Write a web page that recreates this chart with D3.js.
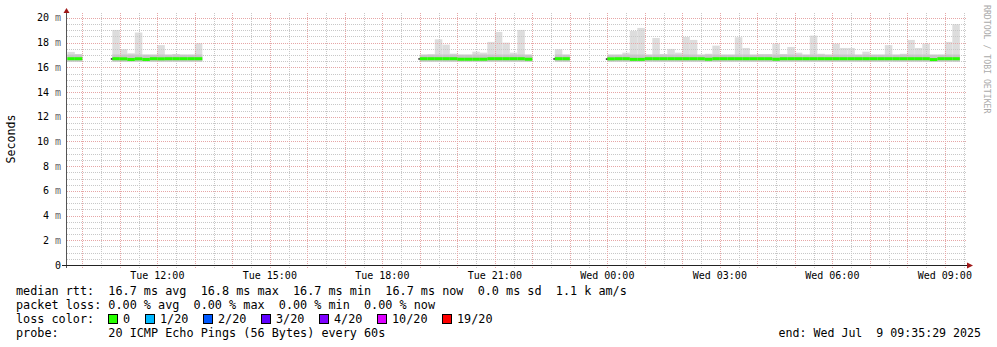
<!DOCTYPE html>
<html>
<head>
<meta charset="utf-8">
<script src="https://cdn.jsdelivr.net/npm/d3@7"></script>
<style>
  body { margin: 0; background: #fff; }
  text { font-family: "DejaVu Sans Mono", monospace; }
</style>
</head>
<body>
<svg id="chart" width="997" height="347"></svg>
<script>
// time window of the graph (UTC, as printed by the probe)
var rangeStart = new Date(Date.UTC(2025, 6, 8, 9, 35, 29));
var rangeEnd = new Date(Date.UTC(2025, 6, 9, 9, 35, 29));
var firstStep = new Date(Date.UTC(2025, 6, 8, 9, 36, 0));
var stepMinutes = 12;

// highest ping in each 12 min step (ms), null = no data
var stepMax = [
  17.25, 17.08, null, null, null, null, 19.03, 17.47, 17.14, 18.82,
  17.0, 17.0, 17.8, 17.0, 17.08, 17.0, 17.0, 17.95, null, null,
  null, null, null, null, null, null, null, null, null, null,
  null, null, null, null, null, null, null, null, null, null,
  null, null, null, null, null, null, null, 17.0, 17.05, 18.27,
  17.84, 17.11, 17.0, 17.0, 17.27, 17.19, 18.06, 18.87, 18.0, 17.19,
  19.03, 17.0, null, null, null, 17.47, 17.0, null, null, null,
  null, null, 17.0, 17.0, 17.19, 18.95, 19.19, 17.0, 18.38, 17.08,
  17.49, 17.19, 18.46, 18.22, 17.0, 17.1, 17.76, 17.0, 17.0, 18.44,
  17.57, 17.0, 17.08, 17.08, 17.92, 17.08, 17.65, 17.19, 17.0, 18.57,
  17.1, 17.0, 17.92, 17.57, 17.57, 17.0, 17.27, 17.0, 17.0, 17.8,
  17.0, 17.1, 18.22, 17.57, 17.92, 17.0, 17.0, 18.06, 19.49, null
];

// median rtt in each step (ms)
var stepMedian = [
  16.7, 16.7, null, null, null, null, 16.7, 16.69, 16.64, 16.69,
  16.64, 16.7, 16.69, 16.7, 16.7, 16.7, 16.7, 16.7, null, null,
  null, null, null, null, null, null, null, null, null, null,
  null, null, null, null, null, null, null, null, null, null,
  null, null, null, null, null, null, null, 16.7, 16.7, 16.7,
  16.7, 16.7, 16.66, 16.66, 16.66, 16.66, 16.7, 16.7, 16.7, 16.7,
  16.7, 16.66, null, null, null, 16.7, 16.7, null, null, null,
  null, null, 16.69, 16.7, 16.7, 16.65, 16.65, 16.7, 16.7, 16.7,
  16.7, 16.7, 16.7, 16.7, 16.7, 16.66, 16.7, 16.7, 16.7, 16.7,
  16.7, 16.7, 16.7, 16.7, 16.66, 16.7, 16.7, 16.7, 16.7, 16.7,
  16.7, 16.7, 16.7, 16.7, 16.7, 16.7, 16.7, 16.7, 16.7, 16.7,
  16.7, 16.7, 16.7, 16.7, 16.7, 16.63, 16.7, 16.7, 16.7, null
];

// lowest ping and upper edge of the dense smoke (ms)
var stepMin = 16.46;
var stepDense = 17.04;

var yTicks = [0, 2, 4, 6, 8, 10, 12, 14, 16, 18, 20];

var lossLabels = ["0", "1/20", "2/20", "3/20", "4/20", "10/20", "19/20"];
var lossColors = ["#26ff00", "#00b8ff", "#0059ff", "#5e00ff", "#7e00ff", "#dd00ff", "#ff0000"];

var legendLines = [
  "median rtt:  16.7 ms avg  16.8 ms max  16.7 ms min  16.7 ms now  0.0 ms sd  1.1 k am/s",
  "packet loss: 0.00 % avg  0.00 % max  0.00 % min  0.00 % now",
  "loss color:",
  "probe:       20 ICMP Echo Pings (56 Bytes) every 60s"
];
var endLabel = "end: Wed Jul  9 09:35:29 2025";

var svg = d3.select("#chart");

var x = d3.scaleUtc().domain([rangeStart, rangeEnd]).range([67, 967]);
var y = d3.scaleLinear().domain([0, 20.4]).range([265, 13]);
var px = function(v) { return Math.round(v) + 0.5; };

var steps = stepMax.map(function(m, i) {
  var t0 = d3.utcMinute.offset(firstStep, i * stepMinutes);
  var t1 = d3.utcMinute.offset(firstStep, (i + 1) * stepMinutes);
  return { t0: t0, t1: t1, max: m, med: stepMedian[i], first: i > 0 && stepMax[i - 1] == null };
}).filter(function(d) { return d.max != null; });

// smoke: light part up to the max
svg.append("g").selectAll("rect").data(steps).enter().append("rect")
  .attr("x", function(d) { return x(d.t0); })
  .attr("width", function(d) { return x(d.t1) - x(d.t0); })
  .attr("y", function(d) { return y(d.max); })
  .attr("height", function(d) { return y(stepMin) - y(d.max); })
  .attr("fill", "#dddddd");

// dense smoke around the median
svg.append("g").selectAll("rect").data(steps).enter().append("rect")
  .attr("x", function(d) { return x(d.t0); })
  .attr("width", function(d) { return x(d.t1) - x(d.t0); })
  .attr("y", y(stepDense))
  .attr("height", y(stepMin) - y(stepDense))
  .attr("fill", "#c6c6c6");

// grid
var grid = svg.append("g");
var minorY = d3.range(0, 20.01, 0.5).filter(function(v) { return v % 2 != 0; });
grid.selectAll("line.my").data(minorY).enter().append("line")
  .attr("x1", 67).attr("x2", 967)
  .attr("y1", function(d) { return px(y(d)); }).attr("y2", function(d) { return px(y(d)); })
  .attr("stroke", "#c8c8c8").attr("stroke-dasharray", "1,1");
var minorX = x.ticks(d3.utcMinute.every(30)).filter(function(d) { return d.getUTCMinutes() != 0; });
grid.selectAll("line.mx").data(minorX).enter().append("line")
  .attr("x1", function(d) { return px(x(d)); }).attr("x2", function(d) { return px(x(d)); })
  .attr("y1", 13).attr("y2", 268)
  .attr("stroke", "#c8c8c8").attr("stroke-dasharray", "1,1");
grid.selectAll("line.My").data(yTicks.slice(1)).enter().append("line")
  .attr("x1", 67).attr("x2", 967)
  .attr("y1", function(d) { return px(y(d)); }).attr("y2", function(d) { return px(y(d)); })
  .attr("stroke", "#e6a6a6").attr("stroke-dasharray", "1,1");
var hours = x.ticks(d3.utcHour.every(1));
grid.selectAll("line.Mx").data(hours).enter().append("line")
  .attr("x1", function(d) { return px(x(d)); }).attr("x2", function(d) { return px(x(d)); })
  .attr("y1", 13).attr("y2", 268)
  .attr("stroke", "#e6a6a6").attr("stroke-dasharray", "1,1");

// median line coloured by loss
svg.append("g").selectAll("rect").data(steps).enter().append("rect")
  .attr("x", function(d) { return x(d.t0); })
  .attr("width", function(d) { return x(d.t1) - x(d.t0); })
  .attr("y", function(d) { return y(d.med) - 1.5; })
  .attr("height", 3)
  .attr("fill", lossColors[0]);
// dark pixel where a segment starts again
svg.append("g").selectAll("rect").data(steps.filter(function(d) { return d.first; })).enter().append("rect")
  .attr("x", function(d) { return x(d.t0) - 1.5; })
  .attr("width", 1.5)
  .attr("y", function(d) { return y(d.med) - 0.5; })
  .attr("height", 1.5)
  .attr("fill", "#222");

// axes
svg.append("line").attr("x1", 66.5).attr("x2", 66.5).attr("y1", 268).attr("y2", 12)
  .attr("stroke", "#555");
svg.append("line").attr("x1", 62).attr("x2", 968).attr("y1", 265.5).attr("y2", 265.5)
  .attr("stroke", "#222");
svg.append("path").attr("d", "M63.5,13 L66.5,8 L69.5,13 Z").attr("fill", "#a01818");
svg.append("path").attr("d", "M967,262.5 L973,265.5 L967,268.5 Z").attr("fill", "#a01818");

// y labels
var yl = svg.append("g").attr("font-size", 10).attr("text-anchor", "end");
yTicks.forEach(function(v) {
  var t = yl.append("text").attr("x", 61).attr("y", y(v) + 3.5);
  if (v == 0) { t.text("0"); return; }
  t.append("tspan").attr("fill", "#000").text(v + " ");
  t.append("tspan").attr("fill", "#666").text("m");
});

// x labels
svg.append("g").attr("font-size", 10).attr("text-anchor", "middle")
  .selectAll("text").data(x.ticks(d3.utcHour.every(3))).enter().append("text")
  .attr("x", function(d) { return x(d); })
  .attr("y", 279)
  .text(d3.utcFormat("%a %H:%M"));

// axis titles
svg.append("text").attr("transform", "translate(15,139) rotate(-90)")
  .attr("text-anchor", "middle").attr("font-size", 11.6).text("Seconds");
svg.append("text").attr("transform", "translate(984,5) rotate(90)")
  .attr("font-size", 8.2).attr("fill", "#aaa").text("RRDTOOL / TOBI OETIKER");

// legend
var lg = svg.append("g").attr("font-size", 11.8);
legendLines.forEach(function(s, i) {
  lg.append("text").attr("x", 16).attr("y", 295 + i * 14).attr("xml:space", "preserve").text(s);
});
var cw = 7.0, lx = 108;
lossLabels.forEach(function(l, i) {
  lg.append("rect").attr("x", lx + 0.5).attr("y", 314.5).attr("width", 9).attr("height", 9)
    .attr("fill", lossColors[i]).attr("stroke", "#000");
  lg.append("text").attr("x", lx + 15).attr("y", 323).text(l);
  lx = lx + 15 + l.length * cw + 15;
});
lg.append("text").attr("x", 981).attr("y", 337).attr("text-anchor", "end")
  .attr("font-size", 11.6).attr("xml:space", "preserve").text(endLabel);
</script>
</body>
</html>
